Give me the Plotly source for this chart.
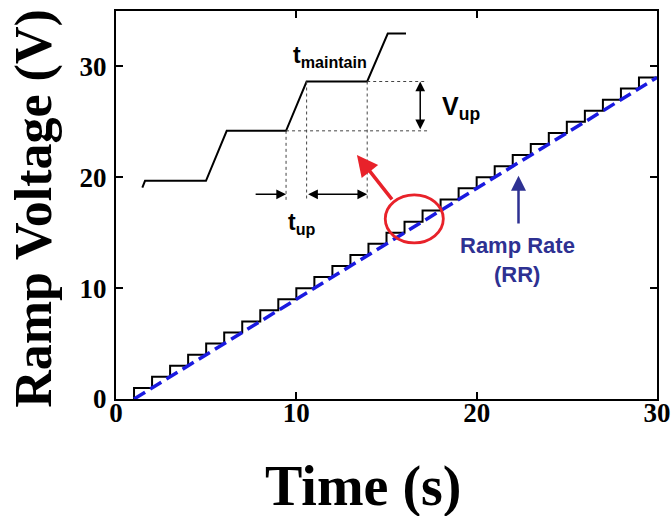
import plotly.graph_objects as go

# Staircase ramp voltage (1 V per 1 s step)
stair_t = [1, 1, 2, 3, 4, 5, 6, 7, 8, 9, 10, 11, 12, 13, 14, 15, 16, 17, 18, 19, 20,
           21, 22, 23, 24, 25, 26, 27, 28, 29, 30]
stair_v = [0, 1, 2, 3, 4, 5, 6, 7, 8, 9, 10, 11, 12, 13, 14, 15, 16, 17, 18, 19, 20,
           21, 22, 23, 24, 25, 26, 27, 28, 29, 29]

# Ideal ramp rate line
ramp_t = [1, 30]
ramp_v = [0, 29]

# Inset schematic waveform (zoom of the staircase)
inset_t = [1.46, 1.61, 4.99, 6.14, 9.43, 10.57, 13.93, 15.07, 16.08]
inset_v = [19.07, 19.68, 19.68, 24.19, 24.19, 28.64, 28.64, 32.97, 32.97]

# Guide (dotted) lines: (t0, v0, t1, v1)
guide_lines = [
    (9.43, 24.19, 17.26, 24.19),
    (13.93, 28.64, 17.26, 28.64),
    (9.43, 24.19, 9.43, 17.96),
    (10.57, 28.64, 10.57, 17.96),
    (13.93, 28.64, 13.93, 17.96),
]

# Highlight ellipse (t0, v0, t1, v1)
ellipse_box = (14.93, 14.08, 18.15, 18.42)

x_ticks = [0, 10, 20, 30]
y_ticks = [0, 10, 20, 30]

x_title = "Time (s)"
y_title = "Ramp Voltage (V)"

serif = "Liberation Serif"
sans = "Liberation Sans"
navy = "#2e3192"
red = "#e8222a"

fig = go.Figure()
fig.add_trace(go.Scatter(x=stair_t, y=stair_v, mode="lines", line_shape="hv",
                         line=dict(color="black", width=2), hoverinfo="skip"))
fig.add_trace(go.Scatter(x=ramp_t, y=ramp_v, mode="lines",
                         line=dict(color="#1a1ae0", width=3.5, dash="13px,6px"), hoverinfo="skip"))
fig.add_trace(go.Scatter(x=inset_t, y=inset_v, mode="lines",
                         line=dict(color="black", width=2), hoverinfo="skip"))

shapes = []
for (t0, v0, t1, v1) in guide_lines:
    shapes.append(dict(type="line", xref="x", yref="y", x0=t0, y0=v0, x1=t1, y1=v1,
                       line=dict(color="#444444", width=1, dash="3px,3px")))
shapes.append(dict(type="circle", xref="x", yref="y", x0=ellipse_box[0], y0=ellipse_box[1],
                   x1=ellipse_box[2], y1=ellipse_box[3], line=dict(color=red, width=2.8)))

annotations = []
# t_up single arrow (pointing right to the first dotted line)
annotations.append(dict(x=9.43, y=18.46, ax=7.66, ay=18.46, xref="x", yref="y", axref="x", ayref="y",
                        showarrow=True, arrowhead=2, arrowsize=1.3, arrowwidth=1.5, arrowcolor="black", text=""))
# t_maintain double arrow
annotations.append(dict(x=13.93, y=18.46, ax=10.57, ay=18.46, xref="x", yref="y", axref="x", ayref="y",
                        showarrow=True, arrowhead=2, startarrowhead=2, arrowside="end+start",
                        arrowsize=1.3, startarrowsize=1.3, arrowwidth=1.5, arrowcolor="black", text=""))
# V_up double arrow
annotations.append(dict(x=16.87, y=28.64, ax=16.87, ay=24.19, xref="x", yref="y", axref="x", ayref="y",
                        showarrow=True, arrowhead=2, startarrowhead=2, arrowside="end+start",
                        arrowsize=1.3, startarrowsize=1.3, arrowwidth=1.5, arrowcolor="black", text=""))
# red arrow
annotations.append(dict(x=13.36, y=22.02, ax=15.37, ay=17.87, xref="x", yref="y", axref="x", ayref="y",
                        showarrow=True, arrowhead=2, arrowsize=1.2, arrowwidth=3.5, arrowcolor=red, text=""))
# navy arrow
annotations.append(dict(x=22.32, y=20.13, ax=22.32, ay=15.70, xref="x", yref="y", axref="x", ayref="y",
                        showarrow=True, arrowhead=2, arrowsize=1.2, arrowwidth=2.5, arrowcolor=navy, text=""))

# labels
annotations.append(dict(x=11.88, y=30.87, xref="x", yref="y", showarrow=False,
                        text="<b>t<sub>maintain</sub></b>", font=dict(family=sans, size=23, color="black")))
annotations.append(dict(x=19.15, y=26.26, xref="x", yref="y", showarrow=False,
                        text="<b>V<sub>up</sub></b>", font=dict(family=sans, size=25, color="black")))
annotations.append(dict(x=10.32, y=15.8, xref="x", yref="y", showarrow=False,
                        text="<b>t<sub>up</sub></b>", font=dict(family=sans, size=23, color="black")))
annotations.append(dict(x=22.25, y=13.81, xref="x", yref="y", showarrow=False,
                        text="<b>Ramp Rate</b>", font=dict(family=sans, size=22, color=navy)))
annotations.append(dict(x=22.25, y=11.19, xref="x", yref="y", showarrow=False,
                        text="<b>(RR)</b>", font=dict(family=sans, size=22, color=navy)))

# axis titles (placed as paper-anchored text)
annotations.append(dict(x=0.458, y=-0.309, xref="paper", yref="paper", showarrow=False,
                        xanchor="center", yanchor="bottom", borderpad=0,
                        text=f"<b>{x_title}</b>", font=dict(family=serif, size=56, color="black")))
annotations.append(dict(x=-0.152, y=0.492, xref="paper", yref="paper", showarrow=False, textangle=-90,
                        xanchor="center", yanchor="middle",
                        text=f"<b>{y_title}</b>", font=dict(family=serif, size=52, color="black")))

axis_common = dict(showline=True, linecolor="black", linewidth=2, mirror="ticks",
                   ticks="inside", ticklen=7, tickwidth=2, tickcolor="black",
                   showgrid=False, zeroline=False, automargin=False,
                   tickfont=dict(family=serif, size=27, color="black", weight="bold"))

fig.update_layout(
    width=672, height=516,
    margin=dict(l=116, r=15, t=11, b=117),
    paper_bgcolor="white", plot_bgcolor="white",
    showlegend=False,
    shapes=shapes, annotations=annotations,
    xaxis=dict(range=[0, 30], tickvals=x_ticks, ticktext=[str(v) for v in x_ticks],
               ticklabelstandoff=-11, **axis_common),
    yaxis=dict(range=[0, 35], tickvals=y_ticks, ticktext=[str(v) for v in y_ticks],
               ticklabelstandoff=2, **axis_common),
)

fig.write_html(
    "out.html",
    config={"displayModeBar": False},
    post_script="document.body.style.margin='0';document.body.style.overflow='hidden';",
)
